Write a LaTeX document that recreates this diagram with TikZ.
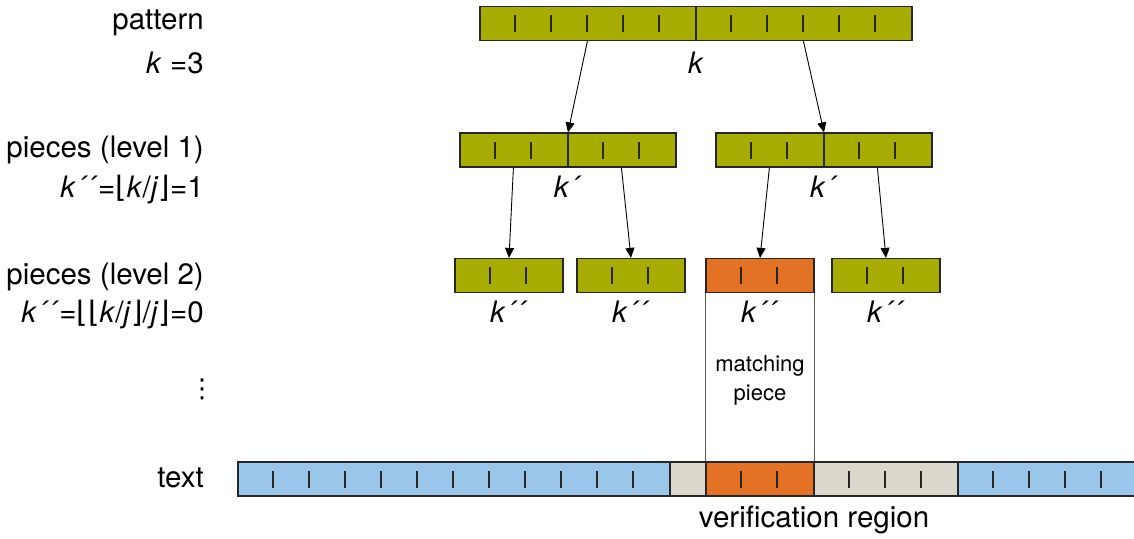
\documentclass[tikz,border=0pt]{standalone}
\usepackage{fontspec}
\setmainfont{TeX Gyre Heros}
\newfontfamily\symfont{DejaVu Sans}
\usetikzlibrary{arrows.meta,positioning}

\definecolor{piecegreen}{RGB}{166,173,0}
\definecolor{matchorange}{RGB}{227,114,37}
\definecolor{textblue}{RGB}{153,198,233}
\definecolor{regiongray}{RGB}{218,216,203}

\begin{document}
\begin{tikzpicture}[x=1pt, y=-1pt,
    cell/.style={draw=black!85, line width=1.2pt, inner sep=0pt, minimum height=34pt, minimum width=#1*36pt},
    piece/.style={cell=#1, fill=piecegreen},
    match/.style={cell=#1, fill=matchorange},
    lab/.style={font=\fontsize{29.5}{35}\selectfont, inner sep=0pt, anchor=base},
    side/.style={lab, anchor=base east},
    small/.style={font=\fontsize{22}{29}\selectfont, align=center, inner sep=0pt},
    tick/.style={line width=2pt, black!85},
    divider/.style={line width=1.2pt, black!85},
    arrow/.style={-{Triangle[length=10pt,width=9pt]}, line width=0.9pt},
    edge/.style={line width=1.1pt, black!65}
  ]
    \clip (0,0) rectangle (1134,538);
    % pattern and its pieces
    \node[piece=12] (pat) at (696,23.5) {};
    \node[piece=6] (la) at (568,150) {};
    \node[piece=6] (lb) at (824,150) {};
    \node[piece=3] (p1) at (509,275.5) {};
    \node[piece=3] (p2) at (631,275.5) {};
    \node[match=3] (p3) at (760,275.5) {};
    \node[piece=3] (p4) at (886,275.5) {};
    % text
    \node[cell=12, fill=textblue] (t1) at (454,479) {};
    \node[cell=1, fill=regiongray] (t2) at (688,479) {};
    \node[match=3] (t3) at (760,479) {};
    \node[cell=4, fill=regiongray] (t4) at (886,479) {};
    \node[cell=6, fill=textblue] (t5) at (1066,479) {};
    % character ticks
    \foreach \seg/\cells in {pat/{1,2,3,4,5,7,8,9,10,11}, la/{1,2,4,5}, lb/{1,2,4,5},
        p1/{1,2}, p2/{1,2}, p3/{1,2}, p4/{1,2},
        t1/{1,...,11}, t3/{1,2}, t4/{1,2,3}, t5/{1,...,5}}
      \foreach \pos in \cells
        \draw[tick] ([xshift=\pos*36pt, yshift=-8.5pt]\seg.west) -- ++(0,-17);
    \draw[divider] (pat.north) -- (pat.south);
    \draw[divider] (la.north) -- (la.south);
    \draw[divider] (lb.north) -- (lb.south);
    % splitting
    \draw[arrow] ([xshift=108pt]pat.south west) -- (la.north);
    \draw[arrow] ([xshift=324pt]pat.south west) -- (lb.north);
    \draw[arrow] ([xshift=54pt]la.south west) -- (p1.north);
    \draw[arrow] ([xshift=162pt]la.south west) -- (p2.north);
    \draw[arrow] ([xshift=54pt]lb.south west) -- (p3.north);
    \draw[arrow] ([xshift=162pt]lb.south west) -- (p4.north);
    \draw[edge] (p3.south west) -- (t3.north west);
    \draw[edge] (p3.south east) -- (t3.north east);
    % labels
    \node[lab] (kpat) at (696,73) {\textit{k}};
    \node[lab] (kla) at (568,197) {\textit{k´}};
    \node[lab] (klb) at (824,197) {\textit{k´}};
    \node[lab] (kp1) at (509,322) {\textit{k´´}};
    \node[lab] (kp2) at (631,322) {\textit{k´´}};
    \node[lab] (kp3) at (760,322) {\textit{k´´}};
    \node[lab] (kp4) at (886,322) {\textit{k´´}};
    \node[small] (mlab) at (760,380) {matching\\piece};
    \node[lab] (vlab) at (814,527) {verification region};
    \node[side] (lpat) at (204,29) {pattern};
    \node[side] (lk) at (204,73) {\textit{k} =3};
    \node[side] (lla) at (204,157) {pieces (level 1)};
    \node[side] (lka) at (204,197) {\textit{k´´}={\symfont ⌊}\textit{k}/\textit{j}{\symfont ⌋}=1};
    \node[side] (llb) at (204,284) {pieces (level 2)};
    \node[side] (lkb) at (204,322) {\textit{k´´}={\symfont ⌊⌊}\textit{k}/\textit{j}{\symfont ⌋}/\textit{j}{\symfont ⌋}=0};
    \node[font=\fontsize{26}{30}\selectfont\symfont, inner sep=0pt] (dots) at (202,389) {⋮};
    \node[side] (ltext) at (204,487) {text};
\end{tikzpicture}
\end{document}
